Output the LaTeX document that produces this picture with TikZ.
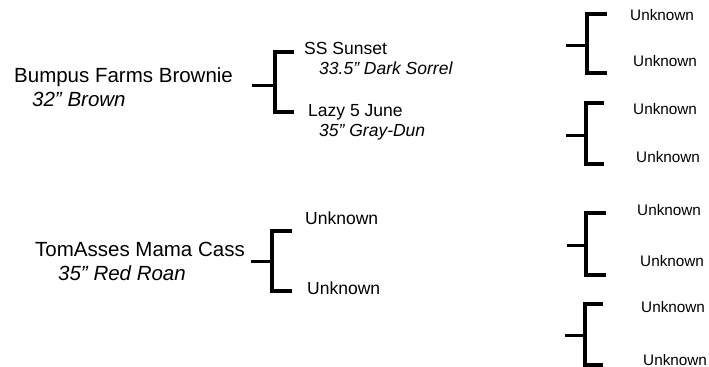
\documentclass[tikz,border=0pt]{standalone}
\usepackage{fontspec}
\setmainfont{Liberation Sans}
\begin{document}
\begin{tikzpicture}[line join=miter,
  horse/.style={anchor=base west,inner sep=0pt,font=\fontsize{20.5bp}{24bp}\selectfont},
  horseinfo/.style={horse,font=\fontsize{20.5bp}{24bp}\selectfont\itshape},
  parent/.style={anchor=base west,inner sep=0pt,font=\fontsize{17.5bp}{21bp}\selectfont},
  parentinfo/.style={parent,font=\fontsize{17.5bp}{21bp}\selectfont\itshape},
  grand/.style={anchor=base west,inner sep=0pt,font=\fontsize{15.3bp}{18bp}\selectfont},
  stub/.style={line width=3bp},
  bracket/.style={line width=3.5bp},
  ]
\useasboundingbox (0bp,0bp) rectangle (709bp,367bp);
  % Node: brownie
  \node[horse] (brownie) at (14bp,284bp) {Bumpus Farms Brownie};
  \node[horseinfo] (brownieinfo) at (32bp,260bp) {32” Brown};
  % Node: cass
  \node[horse] (cass) at (35bp,110bp) {TomAsses Mama Cass};
  \node[horseinfo] (cassinfo) at (58bp,86bp) {35” Red Roan};
  % Node: sunset
  \node[parent] (sunset) at (304bp,312bp) {SS Sunset};
  \node[parentinfo] (sunsetinfo) at (319bp,292bp) {33.5” Dark Sorrel};
  % Node: june
  \node[parent] (june) at (308bp,250bp) {Lazy 5 June};
  \node[parentinfo] (juneinfo) at (319bp,230bp) {35” Gray-Dun};
  % Node: casssire
  \node[parent] (casssire) at (305bp,142bp) {Unknown};
  % Node: cassdam
  \node[parent] (cassdam) at (307bp,72bp) {Unknown};
  % Node: g0 .. g7
  \node[grand] (g0) at (630bp,346bp) {Unknown};
  \node[grand] (g1) at (633bp,300bp) {Unknown};
  \node[grand] (g2) at (633bp,252bp) {Unknown};
  \node[grand] (g3) at (636bp,204bp) {Unknown};
  \node[grand] (g4) at (637bp,151bp) {Unknown};
  \node[grand] (g5) at (640bp,100bp) {Unknown};
  \node[grand] (g6) at (641bp,54bp) {Unknown};
  \node[grand] (g7) at (643bp,2bp) {Unknown};
  % Edge: brownie -> sunset, june
  \coordinate (s0) at (252bp,281bp);
  \coordinate (v0) at (275bp,281bp);
  \coordinate (t0) at (294bp,315bp);
  \coordinate (d0) at (294bp,255bp);
  \draw[stub] (s0) -- (v0);
  \draw[bracket] (t0) -- (t0 -| v0) -- (d0 -| v0) -- (d0);
  % Edge: cass -> casssire, cassdam
  \coordinate (s1) at (251bp,105bp);
  \coordinate (v1) at (272bp,105bp);
  \coordinate (t1) at (292bp,136bp);
  \coordinate (d1) at (292bp,76bp);
  \draw[stub] (s1) -- (v1);
  \draw[bracket] (t1) -- (t1 -| v1) -- (d1 -| v1) -- (d1);
  % Edge: sunset -> g0, g1
  \coordinate (s2) at (566bp,321bp);
  \coordinate (v2) at (587bp,321bp);
  \coordinate (t2) at (607bp,353bp);
  \coordinate (d2) at (607bp,294bp);
  \draw[stub] (s2) -- (v2);
  \draw[bracket] (t2) -- (t2 -| v2) -- (d2 -| v2) -- (d2);
  % Edge: june -> g2, g3
  \coordinate (s3) at (566bp,231bp);
  \coordinate (v3) at (586bp,231bp);
  \coordinate (t3) at (604bp,264bp);
  \coordinate (d3) at (604bp,203bp);
  \draw[stub] (s3) -- (v3);
  \draw[bracket] (t3) -- (t3 -| v3) -- (d3 -| v3) -- (d3);
  % Edge: casssire -> g4, g5
  \coordinate (s4) at (567bp,121bp);
  \coordinate (v4) at (586bp,121bp);
  \coordinate (t4) at (606bp,154bp);
  \coordinate (d4) at (606bp,92bp);
  \draw[stub] (s4) -- (v4);
  \draw[bracket] (t4) -- (t4 -| v4) -- (d4 -| v4) -- (d4);
  % Edge: cassdam -> g6, g7
  \coordinate (s5) at (565bp,31bp);
  \coordinate (v5) at (585bp,31bp);
  \coordinate (t5) at (603bp,63bp);
  \coordinate (d5) at (603bp,2bp);
  \draw[stub] (s5) -- (v5);
  \draw[bracket] (t5) -- (t5 -| v5) -- (d5 -| v5) -- (d5);
%
\end{tikzpicture}
\end{document}
